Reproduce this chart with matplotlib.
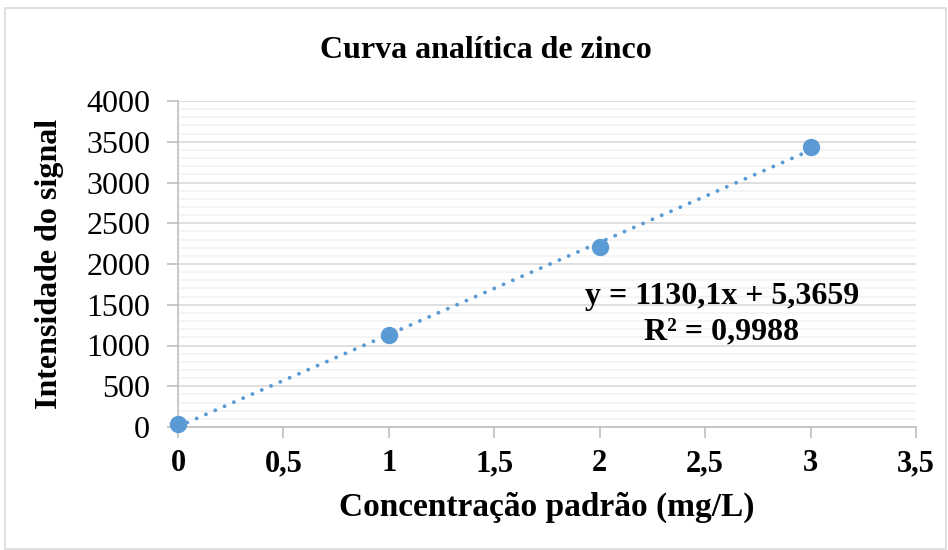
import matplotlib
matplotlib.use("Agg")
import matplotlib.pyplot as plt
from matplotlib.patches import Rectangle
import numpy as np

plt.rcParams['font.family'] = ['Liberation Serif', 'DejaVu Serif']

title = "Curva analítica de zinco"
xlabel = "Concentração padrão (mg/L)"
ylabel = "Intensidade do signal"
conc = [0, 1, 2, 3]
signal = [35, 1125, 2207, 3440]
eq_text = "y = 1130,1x + 5,3659\nR² = 0,9988"
slope, intercept = 1130.1, 5.3659
xticks = [0, 0.5, 1, 1.5, 2, 2.5, 3, 3.5]
xtick_labels = ["0", "0,5", "1", "1,5", "2", "2,5", "3", "3,5"]
yticks = [0, 500, 1000, 1500, 2000, 2500, 3000, 3500, 4000]

blue = "#5B9BD5"

fig = plt.figure(figsize=(9.48, 5.5), dpi=100)
ax = fig.add_axes([178/948, 1-427/550, (916-178)/948, (427-101)/550])

fig.patches.append(Rectangle((5/948, 0.002), 1-5/948-0.002, 1-8/550-0.002,
                             transform=fig.transFigure, fill=False,
                             edgecolor="#D9D9D9", linewidth=1.2))

# trendline
xt = np.array([0, 3])
ax.plot(xt, slope*xt + intercept, linestyle=(0, (0.01, 2.6)), color=blue,
        linewidth=2.8, dash_capstyle='round', zorder=3)
ax.plot(conc, signal, 'o', color=blue, markersize=11.5, zorder=4, clip_on=False)

ax.set_xlim(0, 3.5)
ax.set_ylim(0, 4000)
ax.set_xticks(xticks)
ax.set_xticklabels(xtick_labels, fontweight='bold', fontsize=22)
ax.set_yticks(yticks)
ax.set_yticks(np.arange(0, 4001, 100), minor=True)
ax.tick_params(axis='y', which='major', labelsize=23, length=8, color="#BFBFBF", width=1.2, pad=12)
ax.tick_params(axis='y', which='minor', length=0)
ax.tick_params(axis='x', which='major', length=8, color="#BFBFBF", width=1.2, pad=8)

ax.grid(axis='y', which='major', color="#D9D9D9", linewidth=1.2)
ax.grid(axis='y', which='minor', color="#F2F2F2", linewidth=1.2)
ax.set_axisbelow(True)

for s in ['top', 'right']:
    ax.spines[s].set_visible(False)
for s in ['left', 'bottom']:
    ax.spines[s].set_color("#BFBFBF")
    ax.spines[s].set_linewidth(1.2)

ax.set_xlabel(xlabel, fontweight='bold', fontsize=24, labelpad=10)
ax.set_ylabel(ylabel, fontweight='bold', fontsize=23, labelpad=16)
fig.text(486/948, 1-50/550, title, ha='center', va='center', fontweight='bold', fontsize=23)

ax.text(2.58, 1380, eq_text, ha='center', va='center', fontweight='bold',
        fontsize=23, linespacing=1.28)

fig.savefig("out.png", dpi=100)
